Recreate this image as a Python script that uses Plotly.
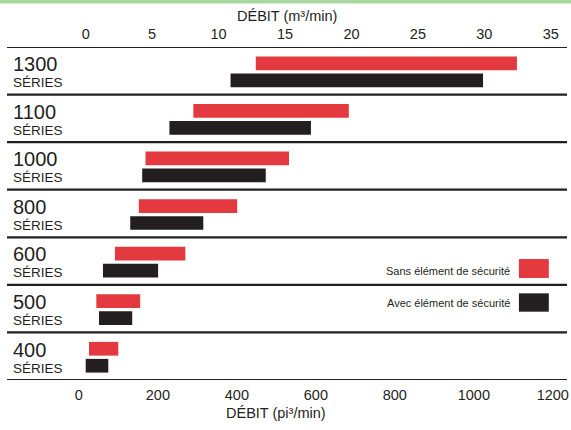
import plotly.graph_objects as go

# ---- data (m³/min) ----
series_labels = ["1300", "1100", "1000", "800", "600", "500", "400"]
sans_start = [12.8, 8.1, 4.5, 4.0, 2.2, 0.8, 0.25]
sans_end   = [32.45, 19.8, 15.3, 11.4, 7.5, 4.1, 2.45]
avec_start = [10.9, 6.3, 4.25, 3.35, 1.3, 1.0, 0.0]
avec_end   = [29.9, 16.95, 13.55, 8.85, 5.45, 3.5, 1.7]
series_names = ["Sans élément de sécurité", "Avec élément de sécurité"]
top_ticks = [0, 5, 10, 15, 20, 25, 30, 35]
bottom_ticks = [0, 200, 400, 600, 800, 1000, 1200]
top_title = "DÉBIT (m³/min)"
bottom_title = "DÉBIT (pi³/min)"

RED = "#e3393f"
BLACK = "#231f20"
FONT = "Liberation Sans, Arial, sans-serif"

n = len(series_labels)
rows = list(range(n))
red_y = [r + 0.343 for r in rows]
blk_y = [r + 0.70 for r in rows]

fig = go.Figure()
fig.add_trace(go.Bar(
    orientation="h", y=red_y, base=sans_start,
    x=[e - s for s, e in zip(sans_start, sans_end)],
    width=0.288, marker=dict(color=RED, line=dict(width=0)),
    name=series_names[0], showlegend=False, xaxis="x", yaxis="y"))
fig.add_trace(go.Bar(
    orientation="h", y=blk_y, base=avec_start,
    x=[e - s for s, e in zip(avec_start, avec_end)],
    width=0.288, marker=dict(color=BLACK, line=dict(width=0)),
    name=series_names[1], showlegend=False, xaxis="x", yaxis="y"))
# dummy trace to anchor bottom axis
fig.add_trace(go.Scatter(x=[None], y=[None], xaxis="x2", yaxis="y",
                         showlegend=False, hoverinfo="skip"))

shapes = []
for k in range(n + 1):
    shapes.append(dict(type="line", xref="paper", yref="y",
                       x0=0.0123, x1=0.993, y0=k, y1=k,
                       line=dict(color=BLACK, width=2.2)))
shapes.append(dict(type="rect", xref="paper", yref="paper",
                   x0=0, x1=1, y0=1.131, y1=1.145,
                   fillcolor="#a9d9a0", line=dict(width=0)))
shapes.append(dict(type="rect", xref="x", yref="y", x0=32.6, x1=34.85,
                   y0=4.457, y1=4.856, fillcolor=RED, line=dict(width=0)))
shapes.append(dict(type="rect", xref="x", yref="y", x0=32.6, x1=34.85,
                   y0=5.178, y1=5.564, fillcolor=BLACK, line=dict(width=0)))

annotations = []
for r, lab in zip(rows, series_labels):
    annotations.append(dict(xref="paper", yref="y", x=0.019, y=r + 0.36,
                            text=lab, showarrow=False, xanchor="left",
                            yanchor="middle",
                            font=dict(family=FONT, size=20, color=BLACK)))
    annotations.append(dict(xref="paper", yref="y", x=0.019, y=r + 0.75,
                            text="SÉRIES", showarrow=False, xanchor="left",
                            yanchor="middle",
                            font=dict(family=FONT, size=13.5, color=BLACK)))
annotations.append(dict(xref="x", yref="y", x=32.1, y=4.70, text=series_names[0],
                        showarrow=False, xanchor="right", yanchor="middle",
                        font=dict(family=FONT, size=11, color=BLACK)))
annotations.append(dict(xref="x", yref="y", x=32.1, y=5.375, text=series_names[1],
                        showarrow=False, xanchor="right", yanchor="middle",
                        font=dict(family=FONT, size=11, color=BLACK)))
# axis titles
annotations.append(dict(xref="paper", yref="paper", x=0.503, y=1.0931,
                        text=top_title, showarrow=False, xanchor="center",
                        yanchor="middle",
                        font=dict(family=FONT, size=14.5, color=BLACK)))
annotations.append(dict(xref="paper", yref="paper", x=0.483, y=-0.0991,
                        text=bottom_title, showarrow=False, xanchor="center",
                        yanchor="middle",
                        font=dict(family=FONT, size=14.5, color=BLACK)))

fig.update_layout(
    width=571, height=430,
    margin=dict(l=0, r=0, t=47, b=50),
    paper_bgcolor="white", plot_bgcolor="white",
    barmode="overlay",
    font=dict(family=FONT, color=BLACK),
    shapes=shapes, annotations=annotations,
    xaxis=dict(side="top", range=[-6.449, 36.52], tickvals=top_ticks,
               ticks="outside", ticklen=1, tickcolor="rgba(0,0,0,0)",
               showgrid=False, zeroline=False, showline=False,
               tickfont=dict(family=FONT, size=14.5, color=BLACK)),
    xaxis2=dict(side="bottom", overlaying="x", anchor="y",
                range=[-199.8, 1246.1], tickvals=bottom_ticks,
                ticks="outside", ticklen=2, tickcolor="rgba(0,0,0,0)",
                showgrid=False, zeroline=False, showline=False,
                tickfont=dict(family=FONT, size=14.5, color=BLACK)),
    yaxis=dict(range=[n, 0], showticklabels=False, showgrid=False,
               zeroline=False, showline=False, ticks=""),
)

fig.write_html("out.html", config={"displayModeBar": False},
               post_script="document.body.style.margin='0';document.body.style.padding='0';")
